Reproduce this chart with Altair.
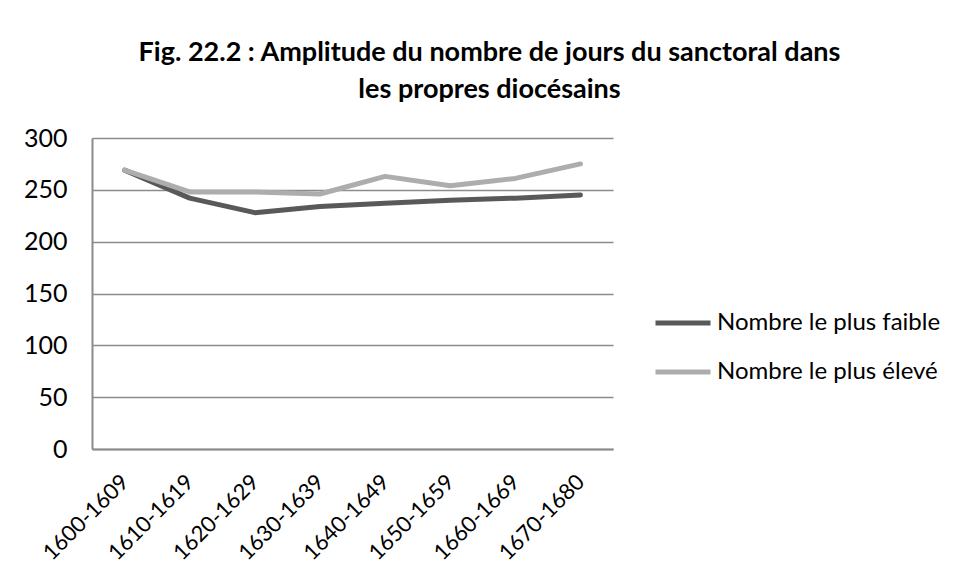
import altair as alt
import pandas as pd

periods = ["1600-1609", "1610-1619", "1620-1629", "1630-1639",
           "1640-1649", "1650-1659", "1660-1669", "1670-1680"]
low_values = [269, 242, 228, 234, 237, 240, 242, 245]
high_values = [269, 248, 248, 246, 263, 254, 261, 275]
series_names = ["Nombre le plus faible", "Nombre le plus élevé"]
series_colors = ["#595959", "#adadad"]
y_ticks = [0, 50, 100, 150, 200, 250, 300]
title_lines = ["Fig. 22.2 : Amplitude du nombre de jours du sanctoral dans",
               "les propres diocésains"]

rows = []
for p, lo, hi in zip(periods, low_values, high_values):
    rows.append({"period": p, "series": series_names[0], "value": lo})
    rows.append({"period": p, "series": series_names[1], "value": hi})
df = pd.DataFrame(rows)

FONT = "Lato"

chart = alt.Chart(df).mark_line(
    strokeWidth=5, strokeCap="round", strokeJoin="round"
).encode(
    x=alt.X("period:O", sort=periods, title=None,
            axis=alt.Axis(labelAngle=315, labelAlign="right", labelBaseline="middle",
                          labelPadding=29, ticks=False, grid=False,
                          domainColor="#8c8c8c", domainWidth=2,
                          labelFont=FONT, labelFontSize=22, labelColor="#000000")),
    y=alt.Y("value:Q", title=None,
            scale=alt.Scale(domain=[0, 300], nice=False, zero=True),
            axis=alt.Axis(values=y_ticks, ticks=False, labelPadding=25,
                          gridColor="#8c8c8c", gridWidth=1.5,
                          domainColor="#8c8c8c", domainWidth=2,
                          labelFont=FONT, labelFontSize=25, labelColor="#000000")),
    color=alt.Color("series:N", sort=series_names,
                    scale=alt.Scale(domain=series_names, range=series_colors),
                    legend=alt.Legend(title=None, orient="none", legendX=561, legendY=155,
                                      symbolType="stroke", symbolSize=3025,
                                      symbolStrokeWidth=5, labelOffset=4,
                                      rowPadding=7, labelLimit=400,
                                      labelFont=FONT, labelFontSize=24,
                                      labelColor="#000000")),
).properties(
    width=521,
    height=311,
    title=alt.TitleParams(text=title_lines, font=FONT, fontSize=27, fontWeight="bold",
                          color="#000000", anchor="middle", dx=137, offset=22,
                          lineHeight=37),
    autosize=alt.AutoSizeParams(type="none"),
    padding={"left": 84, "top": 130, "right": 336, "bottom": 123},
).configure_view(stroke=None)

chart.save("out.html", embed_options={"renderer": "svg", "actions": False})
